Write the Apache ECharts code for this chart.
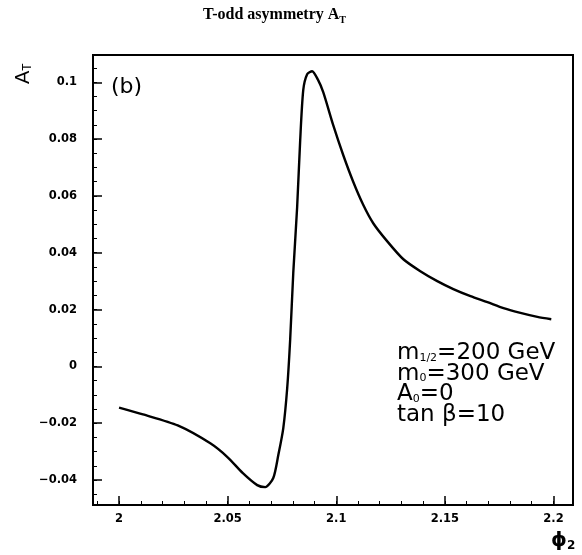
<!DOCTYPE html>
<html>
<head>
<meta charset="utf-8">
<script src="https://cdn.jsdelivr.net/npm/echarts@6/dist/echarts.min.js"></script>
<style>html,body{margin:0;padding:0;background:#fff}#c{width:582px;height:555px}</style>
</head>
<body>
<div id="c"></div>
<script>
// phi_2 values (x)
var phi = [2.0, 2.011, 2.027, 2.042, 2.050, 2.057, 2.0636, 2.0673, 2.0710, 2.0733, 2.0756, 2.0774, 2.0788, 2.0802, 2.0820, 2.0834, 2.0848, 2.0866, 2.0889, 2.0915, 2.0940, 2.0986, 2.1032, 2.1078, 2.1124, 2.1171, 2.1235, 2.1309, 2.1387, 2.1465, 2.1539, 2.1618, 2.1696, 2.1770, 2.1848, 2.1926, 2.1990];
// A_T values
var asym = [-0.0145, -0.0169, -0.0208, -0.0271, -0.0320, -0.0376, -0.0418, -0.0425, -0.0393, -0.0313, -0.0218, -0.0078, 0.0097, 0.0328, 0.0562, 0.0797, 0.0972, 0.1028, 0.1039, 0.1010, 0.0965, 0.0849, 0.0744, 0.0650, 0.0569, 0.0503, 0.0440, 0.0377, 0.0335, 0.0300, 0.0272, 0.0247, 0.0226, 0.0205, 0.0188, 0.0174, 0.0166];
var xTicks = [2, 2.05, 2.1, 2.15, 2.2];
var yTicks = [-0.04, -0.02, 0, 0.02, 0.04, 0.06, 0.08, 0.1];

var xMin = 1.988, xMax = 2.209, yMin = -0.0488, yMax = 0.1096;
var xMinor = [], yMinor = [];
for (var i = 0; i <= 22; i++) { var v = +(1.99 + i * 0.01).toFixed(3); if (v > xMin && v < xMax) xMinor.push(v); }
for (var j = 0; j <= 32; j++) { var w = +(-0.045 + j * 0.005).toFixed(4); if (w > yMin && w < yMax) yMinor.push(w); }

var data = phi.map(function (p, k) { return [p, asym[k]]; });
var lab = { color: '#000', fontFamily: 'DejaVu Sans', fontWeight: 'bold', fontSize: 11.5 };

var chart = echarts.init(document.getElementById('c'));
chart.setOption({
  animation: false,
  backgroundColor: '#fff',
  grid: { left: 93, top: 55, right: 9, bottom: 50, show: true, borderColor: '#000', borderWidth: 2, backgroundColor: 'transparent' },
  xAxis: [{
    type: 'value', min: xMin, max: xMax,
    axisLine: { show: true, onZero: false, lineStyle: { color: '#000', width: 2 } },
    axisTick: { show: true, inside: true, length: 9, customValues: xTicks, lineStyle: { color: '#000', width: 1.5 } },
    axisLabel: Object.assign({ customValues: xTicks, margin: 8, formatter: function (v) { return String(+v.toFixed(2)); } }, lab),
    splitLine: { show: false }
  }, {
    type: 'value', min: xMin, max: xMax, position: 'bottom',
    axisLine: { show: false, onZero: false },
    axisTick: { show: true, inside: true, length: 4, customValues: xMinor, lineStyle: { color: '#000', width: 1 } },
    axisLabel: { show: false }, splitLine: { show: false }
  }],
  yAxis: [{
    type: 'value', min: yMin, max: yMax,
    axisLine: { show: true, onZero: false, lineStyle: { color: '#000', width: 2 } },
    axisTick: { show: true, inside: true, length: 9, customValues: yTicks, lineStyle: { color: '#000', width: 1.5 } },
    axisLabel: Object.assign({ customValues: yTicks, margin: 16, formatter: function (v) { var s = String(+v.toFixed(2)); return s.replace('-', '\u2212'); } }, lab),
    splitLine: { show: false }
  }, {
    type: 'value', min: yMin, max: yMax, position: 'left',
    axisLine: { show: false, onZero: false },
    axisTick: { show: true, inside: true, length: 4, customValues: yMinor, lineStyle: { color: '#000', width: 1 } },
    axisLabel: { show: false }, splitLine: { show: false }
  }],
  series: [{
    type: 'line', data: data, xAxisIndex: 0, yAxisIndex: 0,
    showSymbol: false, smooth: 0.25,
    lineStyle: { color: '#000', width: 2.4 }
  }],
  graphic: [
    { type: 'text', x: 203, y: 4, style: { text: 'T-odd asymmetry A{s|T}', fill: '#000', font: 'bold 16px "Liberation Serif"',
      rich: { s: { fontSize: 10, fontWeight: 'bold', fontFamily: 'Liberation Serif', verticalAlign: 'bottom', lineHeight: 10 } }, lineHeight: 21 } },
    { type: 'text', x: 12, y: 84, rotation: Math.PI / 2, style: { text: 'A{s|T}', fill: '#000', font: '20px "Liberation Sans"', lineHeight: 22,
      rich: { s: { fontSize: 12, fontFamily: 'Liberation Sans', verticalAlign: 'bottom', lineHeight: 12 } } } },
    { type: 'text', x: 551, y: 530, style: { text: '\u03D5{s|2}', fill: '#000', font: 'bold 20px "DejaVu Sans"', lineHeight: 22,
      rich: { s: { fontSize: 12, fontWeight: 'bold', fontFamily: 'DejaVu Sans', verticalAlign: 'bottom', lineHeight: 12 } } } },
    { type: 'text', x: 111, y: 76, style: { text: '(b)', fill: '#000', font: '22px "DejaVu Sans"' } },
    { type: 'text', x: 397, y: 343, style: {
      text: 'm{s|1/2}=200 GeV\nm{s|0}=300 GeV\nA{s|0}=0\ntan \u03B2=10',
      fill: '#000', font: '23px "DejaVu Sans"', lineHeight: 20.5,
      rich: { s: { fontSize: 11, fontFamily: 'DejaVu Sans', verticalAlign: 'bottom', lineHeight: 9 } } } }
  ]
});
</script>
</body>
</html>
